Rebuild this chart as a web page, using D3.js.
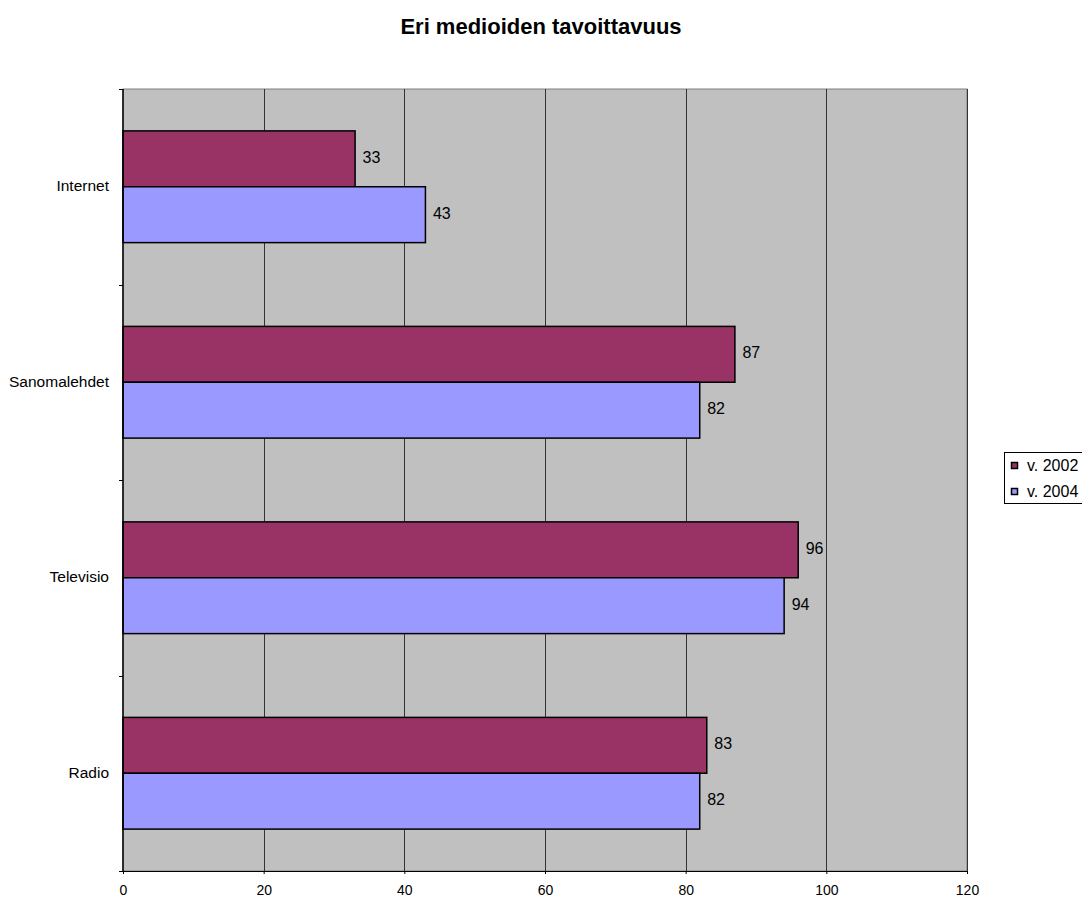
<!DOCTYPE html>
<html><head><meta charset="utf-8">
<script src="https://cdn.jsdelivr.net/npm/d3@7"></script>
<style>body{margin:0;background:#fff}svg{display:block}text{font-family:Arial,"Liberation Sans",sans-serif}</style>
</head><body>
<script>
const categories = ["Internet","Sanomalehdet","Televisio","Radio"];
const series = ["v. 2002","v. 2004"];
const values2002 = [33,87,96,83];
const values2004 = [43,82,94,82];
const xTicks = [0,20,40,60,80,100,120];
const colors = ["#993366","#9999FF"];
const title = "Eri medioiden tavoittavuus";

const W=1082,H=898;
const svg=d3.select("body").append("svg").attr("width",W).attr("height",H);
const L=123,R=967,T=89,B=871;
const x=d3.scaleLinear().domain([0,120]).range([L,R]);
const y=d3.scaleBand().domain(categories).range([T,B]).paddingInner(0).paddingOuter(0);
const band=y.bandwidth();
const barH=band/3.5;

svg.append("rect").attr("x",L).attr("y",T).attr("width",R-L).attr("height",B-T).attr("fill","#C0C0C0").attr("stroke","#808080").attr("stroke-width",1);

// gridlines
svg.append("g").selectAll("line").data(xTicks.slice(1)).join("line")
 .attr("x1",d=>Math.round(x(d))+0.5).attr("x2",d=>Math.round(x(d))+0.5).attr("y1",T).attr("y2",B)
 .attr("stroke","#333").attr("stroke-width",1);

const data=categories.map((c,i)=>({c,v:[values2002[i],values2004[i]]}));
const g=svg.append("g");
data.forEach(d=>{
  d.v.forEach((v,j)=>{
    const y0=y(d.c)+barH*0.75+j*barH;
    g.append("rect").attr("x",x(0)).attr("y",y0).attr("width",x(v)-x(0)).attr("height",barH)
      .attr("fill",colors[j]).attr("stroke","#000").attr("stroke-width",1.5);
    g.append("text").attr("x",x(v)+7.5).attr("y",y0+barH/2-1.5).attr("dy","0.35em")
      .attr("font-size",16).attr("fill","#000").text(v);
  });
});

// x axis
const xa=svg.append("g").attr("transform",`translate(0,${B})`).call(d3.axisBottom(x).tickValues(xTicks).tickSize(3).tickPadding(11).tickSizeOuter(0));
xa.select(".domain").attr("stroke","#000").attr("stroke-width",1);
xa.selectAll(".tick line").attr("stroke","#000");
xa.selectAll("text").attr("font-size",14).attr("font-family","Arial, 'Liberation Sans', sans-serif").attr("fill","#000");

// y axis
svg.append("line").attr("x1",L).attr("x2",L).attr("y1",T).attr("y2",B).attr("stroke","#000").attr("stroke-width",1.5);
const bounds=categories.map(c=>y(c)).concat([B]);
svg.append("g").selectAll("line").data(bounds).join("line")
 .attr("x1",L-4).attr("x2",L).attr("y1",d=>Math.round(d)+0.5).attr("y2",d=>Math.round(d)+0.5).attr("stroke","#000");
svg.append("g").selectAll("text").data(categories).join("text")
 .attr("x",109).attr("y",c=>y(c)+band/2-1).attr("dy","0.35em").attr("text-anchor","end")
 .attr("font-size",15.5).text(c=>c);

// title
svg.append("text").attr("x",541).attr("y",34).attr("text-anchor","middle")
 .attr("font-size",22).attr("font-weight","bold").text(title);

// legend
const lg=svg.append("g");
lg.append("rect").attr("x",1004.5).attr("y",452.5).attr("width",90).attr("height",51).attr("fill","#fff").attr("stroke","#000");
series.forEach((s,i)=>{
  lg.append("rect").attr("x",1011.5).attr("y",462.5+i*26).attr("width",6).attr("height",6).attr("fill",colors[i]).attr("stroke","#000").attr("stroke-width",1.5);
  lg.append("text").attr("x",1027).attr("y",465.5+i*26).attr("dy","0.35em").attr("font-size",16).text(s);
});
</script>
</body></html>
